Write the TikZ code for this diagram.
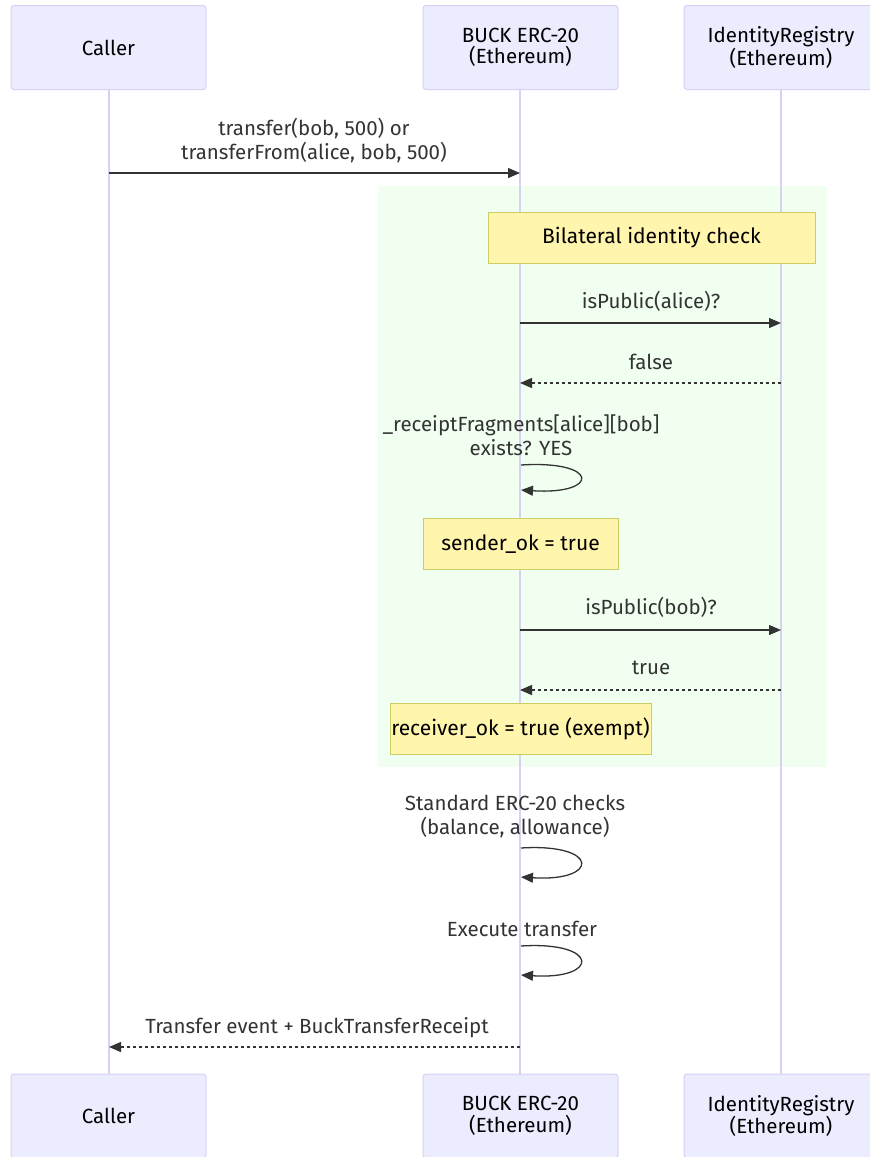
\documentclass[tikz,border=0pt]{standalone}
\usepackage{fontspec}
\setmainfont{Fira Sans}
\usetikzlibrary{arrows.meta,positioning}
\definecolor{actfill}{HTML}{ECECFF}
\definecolor{actline}{HTML}{D6D0F5}
\definecolor{lifeline}{HTML}{D9D0F7}
\definecolor{notefill}{HTML}{FFF5AD}
\definecolor{noteline}{HTML}{CDCD66}
\definecolor{grpfill}{HTML}{F0FFF0}
\definecolor{ink}{HTML}{333333}
\tikzset{
  actor/.style={draw=actline, fill=actfill, rounded corners=3pt, line width=1pt,
    minimum width=195pt, minimum height=84pt, align=center, font=\fontsize{20.5}{21.5}\selectfont, text=black, inner sep=0pt},
  note/.style={draw=noteline, fill=notefill, line width=1pt, align=center,
    font=\fontsize{21}{24}\selectfont, text=black, inner sep=0pt, minimum height=51pt},
  msg/.style={align=center, font=\fontsize{20.5}{24}\selectfont, text=ink, inner sep=0pt},
  call/.style={draw=ink, line width=1.3pt, -{Triangle[length=12pt,width=10pt]}},
  reply/.style={draw=ink, line width=1.3pt, dash pattern=on 3pt off 3pt, -{Triangle[length=12pt,width=10pt]}},
  life/.style={draw=lifeline, line width=1.6pt}
}
\begin{document}
\begin{tikzpicture}[x=1pt,y=-1pt]
\useasboundingbox (0,0) rectangle (870,1157);
% group background
\fill[grpfill] (378,186) rectangle (827,767);
% actors, top and bottom
\node[actor] (callerT) at (108.5,47.5) {Caller};
\node[actor] (buckT) at (520.5,47.5) {BUCK ERC-20\\(Ethereum)};
\node[actor, minimum width=194pt] (regT) at (781,47.5) {IdentityRegistry\\(Ethereum)};
\node[actor] (callerB) at (108.5,1116) {Caller};
\node[actor] (buckB) at (520.5,1116) {BUCK ERC-20\\(Ethereum)};
\node[actor, minimum width=194pt] (regB) at (781,1116) {IdentityRegistry\\(Ethereum)};
% lifelines
\draw[life] (callerT.south -| 109,0) -- (callerB.north -| 109,0);
\draw[life] (buckT.south -| 520,0) -- (buckB.north -| 520,0);
\draw[life] (regT.south -| 781,0) -- (regB.north -| 781,0);
% anchor points on the lifelines
\coordinate (c1) at (109,173); \coordinate (b1) at (520,173);
\coordinate (b2) at (520,323); \coordinate (r2) at (781,323);
\coordinate (r3) at (781,383); \coordinate (b3) at (520,383);
\coordinate (b4) at (521,465); \coordinate (b4e) at (521,490);
\coordinate (b5) at (520,630); \coordinate (r5) at (781,630);
\coordinate (r6) at (781,690); \coordinate (b6) at (520,690);
\coordinate (b7) at (521,848); \coordinate (b7e) at (521,877);
\coordinate (b8) at (521,946); \coordinate (b8e) at (521,975);
\coordinate (b9) at (520,1047); \coordinate (c9) at (109,1047);
% messages
\node[msg] (m1) at (314,141) {transfer(bob, 500) or\\transferFrom(alice, bob, 500)};
\draw[call] (c1) -- (b1);
\node[note, minimum width=327pt] (n1) at (651.5,237.5) {Bilateral identity check};
\node[msg] (m2) at (651,301) {isPublic(alice)?};
\draw[call] (b2) -- (r2);
\node[msg] (m3) at (651,362) {false};
\draw[reply] (r3) -- (b3);
\node[msg] (m4) at (521,435) {\_receiptFragments[alice][bob]\\exists? YES};
\draw[call] (b4) .. controls (600,460) and (600,495) .. (b4e);
\node[note, minimum width=195pt] (n2) at (520.5,544) {sender\_ok = true};
\node[msg] (m5) at (651,607) {isPublic(bob)?};
\draw[call] (b5) -- (r5);
\node[msg] (m6) at (651,668) {true};
\draw[reply] (r6) -- (b6);
\node[note, minimum width=261pt] (n3) at (520.5,728.5) {receiver\_ok = true (exempt)};
\node[msg] (m7) at (515,817) {Standard ERC-20 checks\\(balance, allowance)};
\draw[call] (b7) .. controls (600,843) and (600,882) .. (b7e);
\node[msg] (m8) at (522,929) {Execute transfer};
\draw[call] (b8) .. controls (600,941) and (600,980) .. (b8e);
\node[msg] (m9) at (317,1028) {Transfer event + BuckTransferReceipt};
\draw[reply] (b9) -- (c9);
\end{tikzpicture}
\end{document}
